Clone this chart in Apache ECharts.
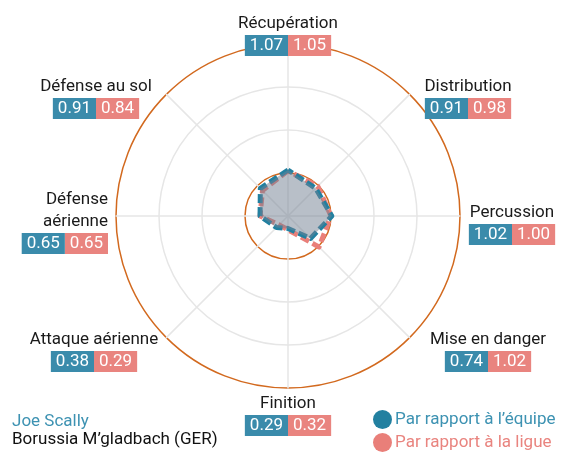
<!DOCTYPE html>
<html>
<head>
<meta charset="utf-8">
<script src="https://cdn.jsdelivr.net/npm/echarts@6/dist/echarts.min.js"></script>
<style>
  html, body { margin: 0; padding: 0; background: #fff; }
  #main { width: 568px; height: 459px; }
</style>
</head>
<body>
<div id="main"></div>
<script>
// axes in clockwise order starting at the top
const categories = ['Récupération', 'Distribution', 'Percussion', 'Mise en danger',
  'Finition', 'Attaque aérienne', 'Défense\naérienne', 'Défense au sol']
const teamValues = [1.07, 0.91, 1.02, 0.74, 0.29, 0.38, 0.65, 0.91]
const leagueValues = [1.05, 0.98, 1.00, 1.02, 0.32, 0.29, 0.65, 0.84]
const radarMax = 4
const seriesNames = ['Par rapport à l’équipe', 'Par rapport à la ligue']

// label block anchors (top of name line) in the same order
const labelLayout = [
  [288, 13, 'center'], [468, 76, 'center'], [512, 202, 'center'], [488, 329, 'center'],
  [288, 393, 'center'], [94, 329, 'center'], [108, 189, 'right'], [96, 76, 'center']
]

const BLUE = '#2280a0'
const PINK = '#e97f79'
const BOX_BLUE = '#3a8bab'
const BOX_PINK = '#e9847f'

// echarts radar runs counter-clockwise, so reverse everything after the first axis
const order = [0, 7, 6, 5, 4, 3, 2, 1]
const pick = arr => order.map(i => arr[i])

const chart = echarts.init(document.getElementById('main'))

const boxStyle = bg => ({
  fontSize: 17, fill: '#fff', backgroundColor: bg, padding: [3, 5, 2, 5],
  height: 16, lineHeight: 21, fontFamily: 'Roboto'
})

const labels = categories.map((name, i) => ({
  type: 'text',
  x: labelLayout[i][0],
  y: labelLayout[i][1],
  z: 100,
  style: {
    text: '{n|' + name.split('\n').join('}\n{n|') + '}\n{a|' + teamValues[i].toFixed(2) + '}{b|' + leagueValues[i].toFixed(2) + '}',
    align: labelLayout[i][2],
    verticalAlign: 'top',
    fontFamily: 'Roboto',
    rich: {
      n: { fontSize: 17, lineHeight: 22, fill: '#1a1a1a', fontFamily: 'Roboto' },
      a: boxStyle(BOX_BLUE),
      b: boxStyle(BOX_PINK)
    }
  }
}))

const option = {
  animation: false,
  textStyle: { fontFamily: 'Roboto' },
  title: {
    text: 'Joe Scally',
    subtext: 'Borussia M’gladbach (GER)',
    left: 12,
    top: 413,
    itemGap: 1,
    padding: 0,
    textStyle: { fontSize: 17, fontWeight: 'normal', color: '#3d92b2', fontFamily: 'Roboto' },
    subtextStyle: { fontSize: 17, color: '#111', fontFamily: 'Roboto' }
  },
  legend: {
    orient: 'vertical',
    left: 368,
    top: 405,
    itemWidth: 19,
    itemHeight: 19,
    itemGap: 4,
    icon: 'circle',
    itemStyle: { borderWidth: 0 },
    data: [
      { name: seriesNames[0], textStyle: { color: '#3d92b2' } },
      { name: seriesNames[1], textStyle: { color: '#e9847f' } }
    ],
    textStyle: { fontSize: 17, fontFamily: 'Roboto', padding: [0, 0, 0, -2] }
  },
  radar: {
    center: [288, 216],
    radius: 172,
    shape: 'circle',
    splitNumber: 4,
    startAngle: 90,
    indicator: pick(categories).map(name => ({ name: name, min: 0, max: radarMax })),
    axisName: { show: false },
    axisLine: { lineStyle: { color: '#e6e6e6', width: 1.5 } },
    splitLine: {
      lineStyle: {
        color: ['#e6e6e6', '#d2691e', '#e6e6e6', '#e6e6e6', '#d2691e'],
        width: 1.5
      }
    },
    splitArea: { show: false }
  },
  series: [
    {
      type: 'radar',
      symbol: 'none',
      z: 2,
      data: [
        {
          name: seriesNames[1],
          value: pick(leagueValues),
          itemStyle: { color: PINK },
          lineStyle: { color: PINK, width: 5, type: [9, 4], cap: 'butt' }
        }
      ]
    },
    {
      type: 'radar',
      symbol: 'none',
      z: 3,
      data: [
        {
          name: seriesNames[0],
          value: pick(teamValues),
          itemStyle: { color: BLUE },
          lineStyle: { color: BLUE, width: 5, type: [9, 4], cap: 'butt' },
          areaStyle: { color: 'rgb(113,127,145)', opacity: 0.5 }
        }
      ]
    }
  ],
  graphic: labels
}

chart.setOption(option)
</script>
</body>
</html>
